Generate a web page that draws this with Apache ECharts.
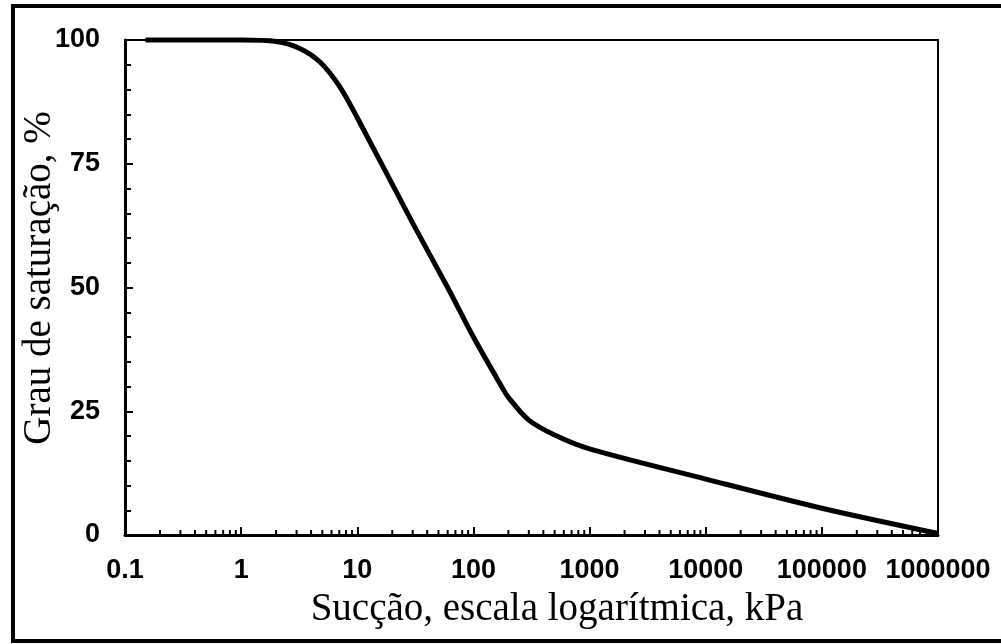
<!DOCTYPE html>
<html>
<head>
<meta charset="utf-8">
<script src="https://cdn.jsdelivr.net/npm/echarts@6/dist/echarts.min.js"></script>
<style>
  html, body { margin: 0; padding: 0; background: #fff; }
  #chart { width: 1001px; height: 644px; }
</style>
</head>
<body>
<div id="chart"></div>
<script>
// sucção (kPa) e grau de saturação (%)
const suction = [0.15, 1, 2, 3.2, 4.8, 7.1, 10, 30, 60, 100, 170, 200, 300, 500, 1000, 10000, 100000, 1000000]
const saturation = [100, 100, 99.7, 98.3, 95.5, 90.5, 84.3, 63, 50, 40, 30.5, 27.8, 23.2, 20.2, 17.4, 11.3, 5.4, 0.3]
const xTickLabels = ['0.1', '1', '10', '100', '1000', '10000', '100000', '1000000']
const decades = [0.1, 1, 10, 100, 1000, 10000, 100000]
const minorSteps = [2, 3, 4, 5, 6, 7, 8, 9]

// marcas menores do eixo logarítmico (2..9 em cada década)
const minorTicks = []
decades.forEach((d) => {
  minorSteps.forEach((m) => {
    minorTicks.push([d * m, 0])
  })
})

const chart = echarts.init(document.getElementById('chart'))

const labelFont = {
  color: '#000',
  fontFamily: 'Liberation Sans',
  fontWeight: 'bold',
  fontSize: 27
}

const option = {
  animation: false,
  grid: {
    left: 125,
    top: 40,
    right: 63,
    bottom: 109,
    show: true,
    borderColor: '#000',
    borderWidth: 2
  },
  xAxis: {
    type: 'log',
    logBase: 10,
    min: 0.1,
    max: 1000000,
    splitLine: { show: false },
    axisLine: { lineStyle: { color: '#000', width: 3 } },
    axisTick: { inside: true, length: 8, lineStyle: { color: '#000', width: 2 } },
    axisLabel: {
      ...labelFont,
      margin: 22,
      formatter: (v) => xTickLabels[Math.round(Math.log10(v)) + 1]
    }
  },
  yAxis: {
    type: 'value',
    min: 0,
    max: 100,
    interval: 25,
    splitLine: { show: false },
    axisLine: { lineStyle: { color: '#000', width: 3 } },
    axisTick: { inside: true, length: 8, lineStyle: { color: '#000', width: 2 } },
    minorTick: { show: true, splitNumber: 5, length: 6, lineStyle: { color: '#000', width: 2 } },
    axisLabel: { ...labelFont, margin: 25 }
  },
  graphic: [
    {
      type: 'rect',
      shape: { x: 13, y: 6, width: 1030, height: 635 },
      style: { fill: 'none', stroke: '#000', lineWidth: 4 },
      silent: true
    },
    {
      type: 'text',
      x: 557,
      y: 610,
      style: {
        text: 'Sucção, escala logarítmica, kPa',
        fill: '#000',
        font: '39px "Liberation Serif"',
        align: 'center',
        verticalAlign: 'middle'
      }
    },
    {
      type: 'text',
      x: 40,
      y: 278,
      rotation: Math.PI / 2,
      style: {
        text: 'Grau de saturação, %',
        fill: '#000',
        font: '39px "Liberation Serif"',
        align: 'center',
        verticalAlign: 'middle'
      }
    }
  ],
  series: [
    {
      type: 'custom',
      silent: true,
      data: minorTicks,
      renderItem: function (params, api) {
        const p = api.coord([api.value(0), 0])
        return {
          type: 'line',
          shape: { x1: p[0], y1: p[1], x2: p[0], y2: p[1] - 5 },
          style: { stroke: '#000', lineWidth: 2 }
        }
      }
    },
    {
      type: 'line',
      data: suction.map((s, i) => [s, saturation[i]]),
      smooth: 0.3,
      showSymbol: false,
      clip: false,
      lineStyle: { color: '#000', width: 5 },
      z: 5
    }
  ]
}

chart.setOption(option)
</script>
</body>
</html>
